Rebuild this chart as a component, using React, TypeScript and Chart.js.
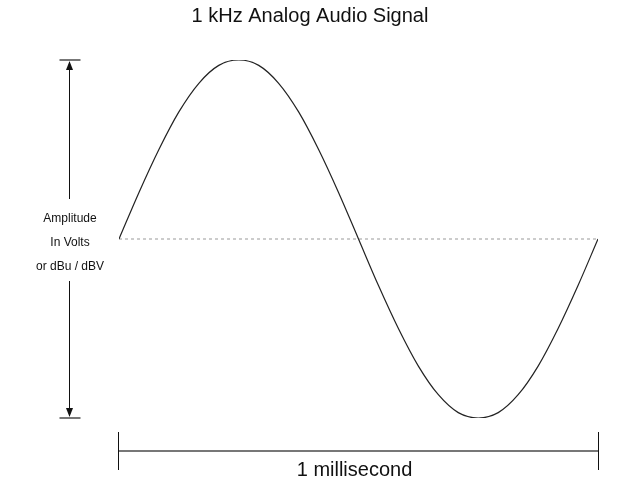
import React, { useEffect, useRef } from "react";
import { Chart, registerables } from "chart.js";

Chart.register(...registerables);

const titleText = "1 kHz Analog Audio Signal";
const xLabel = "1 millisecond";
const yLabelLines = ["Amplitude", "In Volts", "or dBu / dBV"];

// time in milliseconds (one cycle of a 1 kHz tone)
const timeMs = [
  0, 0.0417, 0.0833, 0.125, 0.1667, 0.2083, 0.25, 0.2917, 0.3333, 0.375, 0.4167, 0.4583,
  0.5, 0.5417, 0.5833, 0.625, 0.6667, 0.7083, 0.75, 0.7917, 0.8333, 0.875, 0.9167, 0.9583, 1,
];
// amplitude, normalised
const amplitude = [
  0, 0.26, 0.5, 0.71, 0.87, 0.97, 1, 0.97, 0.87, 0.71, 0.5, 0.26,
  0, -0.26, -0.5, -0.71, -0.87, -0.97, -1, -0.97, -0.87, -0.71, -0.5, -0.26, 0,
];
const baseline = [0, 0];
const baselineTime = [0, 1];

const FONT = "'Liberation Sans', Arial, Helvetica, sans-serif";

const decorPlugin = {
  id: "decor",
  afterDraw(chart: any) {
    const ctx = chart.ctx as CanvasRenderingContext2D;
    const xs = chart.scales.x;
    const ys = chart.scales.y;
    const left = xs.getPixelForValue(0);
    const right = xs.getPixelForValue(1);
    const top = ys.getPixelForValue(1);
    const bottom = ys.getPixelForValue(-1);
    const mid = ys.getPixelForValue(0);
    const arrowX = 69.5;
    ctx.save();

    // title
    ctx.fillStyle = "#111";
    ctx.font = `20px ${FONT}`;
    ctx.textAlign = "center";
    ctx.textBaseline = "middle";
    ctx.fillText(titleText, 310, 16);

    // vertical arrow
    ctx.strokeStyle = "#111";
    ctx.lineWidth = 1;
    ctx.beginPath();
    ctx.moveTo(arrowX, top + 2);
    ctx.lineTo(arrowX, mid - 40);
    ctx.moveTo(arrowX, mid + 42);
    ctx.lineTo(arrowX, bottom - 2);
    ctx.stroke();
    ctx.fillStyle = "#111";
    ctx.beginPath();
    ctx.moveTo(arrowX, top + 1);
    ctx.lineTo(arrowX - 3.5, top + 10);
    ctx.lineTo(arrowX + 3.5, top + 10);
    ctx.closePath();
    ctx.fill();
    ctx.beginPath();
    ctx.moveTo(arrowX, bottom - 1);
    ctx.lineTo(arrowX - 3.5, bottom - 10);
    ctx.lineTo(arrowX + 3.5, bottom - 10);
    ctx.closePath();
    ctx.fill();
    ctx.strokeStyle = "#777";
    ctx.lineWidth = 2;
    ctx.beginPath();
    ctx.moveTo(arrowX - 10, top);
    ctx.lineTo(arrowX + 11, top);
    ctx.moveTo(arrowX - 10, bottom);
    ctx.lineTo(arrowX + 11, bottom);
    ctx.stroke();

    // y label lines
    ctx.fillStyle = "#111";
    ctx.font = `12px ${FONT}`;
    ctx.textAlign = "center";
    const ly = [mid - 20, mid + 4, mid + 28];
    yLabelLines.forEach((t, i) => ctx.fillText(t, 70, ly[i]));

    // horizontal span bar
    const barY = bottom + 33;
    ctx.strokeStyle = "#777";
    ctx.lineWidth = 2;
    ctx.beginPath();
    ctx.moveTo(left, barY);
    ctx.lineTo(right, barY);
    ctx.stroke();
    ctx.strokeStyle = "#111";
    ctx.lineWidth = 1;
    ctx.beginPath();
    ctx.moveTo(left - 0.5, barY - 19);
    ctx.lineTo(left - 0.5, barY + 19);
    ctx.moveTo(right + 0.5, barY - 19);
    ctx.lineTo(right + 0.5, barY + 19);
    ctx.stroke();

    ctx.fillStyle = "#111";
    ctx.font = `20px ${FONT}`;
    ctx.fillText(xLabel, (left + right) / 2 - 4, barY + 19);
    ctx.restore();
  },
};

export default function App() {
  const ref = useRef<HTMLCanvasElement | null>(null);
  useEffect(() => {
    if (!ref.current) return;
    const chart = new Chart(ref.current, {
      type: "line",
      data: {
        datasets: [
          {
            data: timeMs.map((t, i) => ({ x: t, y: amplitude[i] })),
            borderColor: "#222",
            borderWidth: 1.2,
            pointRadius: 0,
            cubicInterpolationMode: "monotone",
            fill: false,
          },
          {
            data: baselineTime.map((t, i) => ({ x: t, y: baseline[i] })),
            borderColor: "#999",
            borderWidth: 1,
            borderDash: [3, 3],
            pointRadius: 0,
            fill: false,
          },
        ],
      },
      options: {
        responsive: false,
        animation: false,
        layout: { padding: { left: 119, right: 23, top: 60, bottom: 62 } },
        plugins: { legend: { display: false }, tooltip: { enabled: false }, title: { display: false } },
        scales: {
          x: { type: "linear", min: 0, max: 1, display: false },
          y: { type: "linear", min: -1, max: 1, display: false },
        },
      },
      plugins: [decorPlugin],
    } as any);
    return () => chart.destroy();
  }, []);
  return (
    <div style={{ position: "absolute", left: 0, top: 0, width: 621, height: 480, background: "#fff" }}>
      <canvas ref={ref} width={621} height={480} style={{ display: "block" }} />
    </div>
  );
}
